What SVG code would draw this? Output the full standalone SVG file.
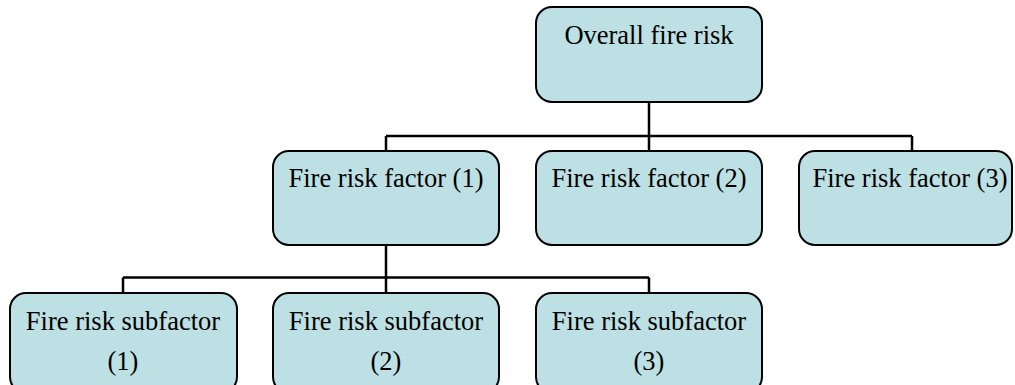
<svg xmlns="http://www.w3.org/2000/svg" width="1015" height="385" viewBox="0 0 1015 385">
<style>
.box{fill:#BCE0E3;stroke:#000;stroke-width:2}
.t{font-family:"Liberation Serif","Times New Roman",serif;font-size:26.5px;fill:#000;text-anchor:middle}
.c{fill:none;stroke:#000;stroke-width:2.5}
</style>
<rect width="1015" height="385" fill="#fff"/>
<g id="connectors">
<path class="c" d="M649 102V136M386 136H912M386 136V151M649 136V151M912 136V151"/>
<path class="c" d="M386 245V277.5M123 277.5H649M123 277.5V293M386 277.5V293M649 277.5V293"/>
</g>
<g id="overall">
<rect class="box" x="536" y="7" width="226" height="95" rx="16"/>
<text class="t" x="649" y="43.5">Overall fire risk</text>
</g>
<g id="factor1">
<rect class="box" x="273" y="151" width="226" height="94" rx="16"/>
<text class="t" x="386" y="187">Fire risk factor (1)</text>
</g>
<g id="factor2">
<rect class="box" x="536" y="151" width="226" height="94" rx="16"/>
<text class="t" x="649" y="187">Fire risk factor (2)</text>
</g>
<g id="factor3">
<rect class="box" x="799" y="151" width="213" height="94" rx="16"/>
<text class="t" x="910" y="187">Fire risk factor (3)</text>
</g>
<g id="sub1">
<rect class="box" x="10" y="293" width="227" height="100" rx="16"/>
<text class="t" x="123" y="330">Fire risk subfactor</text>
<text class="t" x="123" y="370">(1)</text>
</g>
<g id="sub2">
<rect class="box" x="273" y="293" width="226" height="100" rx="16"/>
<text class="t" x="386" y="330">Fire risk subfactor</text>
<text class="t" x="386" y="370">(2)</text>
</g>
<g id="sub3">
<rect class="box" x="536" y="293" width="226" height="100" rx="16"/>
<text class="t" x="649" y="330">Fire risk subfactor</text>
<text class="t" x="649" y="370">(3)</text>
</g>
</svg>
